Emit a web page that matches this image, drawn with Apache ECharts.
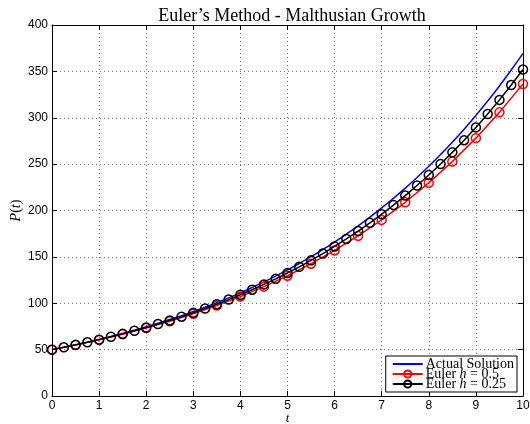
<!DOCTYPE html>
<html>
<head>
<meta charset="utf-8">
<script src="https://cdn.jsdelivr.net/npm/echarts@6/dist/echarts.min.js"></script>
<style>html,body{margin:0;padding:0;background:#fff;}#c{width:530px;height:424px;}</style>
</head>
<body>
<div id="c"></div>
<script>
// Actual solution sampled at t = 0, 0.25, ..., 10
const tFine = [0,0.25,0.5,0.75,1,1.25,1.5,1.75,2,2.25,2.5,2.75,3,3.25,3.5,3.75,4,4.25,4.5,4.75,5,5.25,5.5,5.75,6,6.25,6.5,6.75,7,7.25,7.5,7.75,8,8.25,8.5,8.75,9,9.25,9.5,9.75,10];
const actualP = [50,52.56,55.26,58.09,61.07,64.20,67.49,70.95,74.59,78.42,82.44,86.66,91.11,95.78,100.69,105.85,111.28,116.98,122.98,129.29,135.91,142.88,150.21,157.91,166.01,174.52,183.46,192.87,202.76,213.16,224.08,235.57,247.65,260.35,273.70,287.73,302.48,317.99,334.29,351.43,369.45];
// Euler h = 0.5
const tH05 = [0,0.5,1,1.5,2,2.5,3,3.5,4,4.5,5,5.5,6,6.5,7,7.5,8,8.5,9,9.5,10];
const eulerH05 = [50,55,60.5,66.55,73.21,80.53,88.58,97.44,107.18,117.90,129.69,142.66,156.92,172.61,189.87,208.86,229.75,252.72,278.00,305.80,336.37];
// Euler h = 0.25
const tH025 = tFine;
const eulerH025 = [50,52.5,55.13,57.88,60.78,63.81,67.00,70.36,73.87,77.57,81.44,85.52,89.79,94.28,99.00,103.95,109.14,114.60,120.33,126.35,132.66,139.30,146.26,153.58,161.25,169.32,177.78,186.67,196.01,205.81,216.10,226.90,238.25,250.16,262.67,275.80,289.59,304.07,319.27,335.24,352.00];
const seriesNames = ['Actual Solution', 'Euler h = 0.5', 'Euler h = 0.25'];
const xTicks = [0,1,2,3,4,5,6,7,8,9,10];
const yTicks = [0,50,100,150,200,250,300,350,400];

const zip = (a, b) => a.map((v, i) => [v, b[i]]);
const chart = echarts.init(document.getElementById('c'));
const serif = 'Liberation Serif';
const sans = 'Liberation Sans';
const gridLine = {show: true, lineStyle: {color: '#777', type: [1, 3], width: 1}};
const baseX = {
  type: 'value', min: xTicks[0], max: xTicks[xTicks.length - 1], interval: 1,
  axisLine: {show: true, onZero: false, lineStyle: {color: '#000', width: 1}},
  axisTick: {show: true, inside: true, length: 5, lineStyle: {color: '#000'}},
};
const baseY = {
  type: 'value', min: yTicks[0], max: yTicks[yTicks.length - 1], interval: 50,
  axisLine: {show: true, onZero: false, lineStyle: {color: '#000', width: 1}},
  axisTick: {show: true, inside: true, length: 5, lineStyle: {color: '#000'}},
};
chart.setOption({
  animation: false,
  backgroundColor: '#fff',
  title: {
    text: 'Euler\u2019s Method - Malthusian Growth',
    left: 287, textAlign: 'center', top: 2,
    textStyle: {fontFamily: serif, fontSize: 18, fontWeight: 'normal', color: '#000'}
  },
  grid: {left: 52, right: 7, top: 25, bottom: 28, containLabel: false, outerBoundsMode: 'none'},
  xAxis: [
    Object.assign({}, baseX, {
      position: 'bottom',
      axisLabel: {color: '#000', fontFamily: sans, fontSize: 12, margin: 4},
      splitLine: gridLine,
      name: '{i|t}', nameLocation: 'middle', nameGap: 16, nameMoveOverlap: false,
      nameTextStyle: {rich: {i: {fontFamily: serif, fontStyle: 'italic', fontSize: 13, color: '#000'}}}
    }),
    Object.assign({}, baseX, {position: 'top', axisLabel: {show: false}, splitLine: {show: false}})
  ],
  yAxis: [
    Object.assign({}, baseY, {
      position: 'left',
      axisLabel: {color: '#000', fontFamily: sans, fontSize: 12, margin: 4},
      splitLine: gridLine,
      name: '{i|P}{n|(}{i|t}{n|)}', nameLocation: 'middle', nameGap: 29, nameMoveOverlap: false,
      nameTextStyle: {rich: {
        i: {fontFamily: serif, fontStyle: 'italic', fontSize: 14, color: '#000'},
        n: {fontFamily: serif, fontSize: 14, color: '#000'}
      }}
    }),
    Object.assign({}, baseY, {position: 'right', axisLabel: {show: false}, splitLine: {show: false}})
  ],
  legend: {
    orient: 'vertical', right: 13, bottom: 32,
    backgroundColor: '#fff', borderColor: '#000', borderWidth: 1,
    padding: [1, 3, 1, 6], itemGap: -4, itemWidth: 30, itemHeight: 9,
    data: [
      {name: seriesNames[0], itemStyle: {opacity: 0}},
      {name: seriesNames[1]},
      {name: seriesNames[2]}
    ],
    formatter: function (name) {
      if (name === seriesNames[0]) return '{n|Actual Solution}';
      const h = name.split('= ')[1];
      return '{n|Euler }{i|h}{n| = ' + h + '}';
    },
    textStyle: {
      fontFamily: serif, fontSize: 14,
      padding: [0, 0, 0, -2],
      rich: {
        n: {fontFamily: serif, fontSize: 14, color: '#000'},
        i: {fontFamily: serif, fontStyle: 'italic', fontSize: 14, color: '#000'}
      }
    }
  },
  series: [
    {
      name: seriesNames[0], type: 'line', data: zip(tFine, actualP),
      showSymbol: false, symbol: 'none', smooth: true,
      lineStyle: {color: '#0000ff', width: 1.5}, itemStyle: {color: '#0000ff'}, z: 2
    },
    {
      name: seriesNames[1], type: 'line', data: zip(tH05, eulerH05),
      symbol: 'circle', symbolSize: 9, showAllSymbol: true,
      lineStyle: {color: '#ff0000', width: 1.5},
      itemStyle: {color: 'rgba(0,0,0,0)', borderColor: '#ff0000', borderWidth: 1.5}, z: 3
    },
    {
      name: seriesNames[2], type: 'line', data: zip(tH025, eulerH025),
      symbol: 'circle', symbolSize: 9, showAllSymbol: true,
      lineStyle: {color: '#000', width: 1.5},
      itemStyle: {color: 'rgba(0,0,0,0)', borderColor: '#000', borderWidth: 1.5}, z: 4
    }
  ]
});
</script>
</body>
</html>
